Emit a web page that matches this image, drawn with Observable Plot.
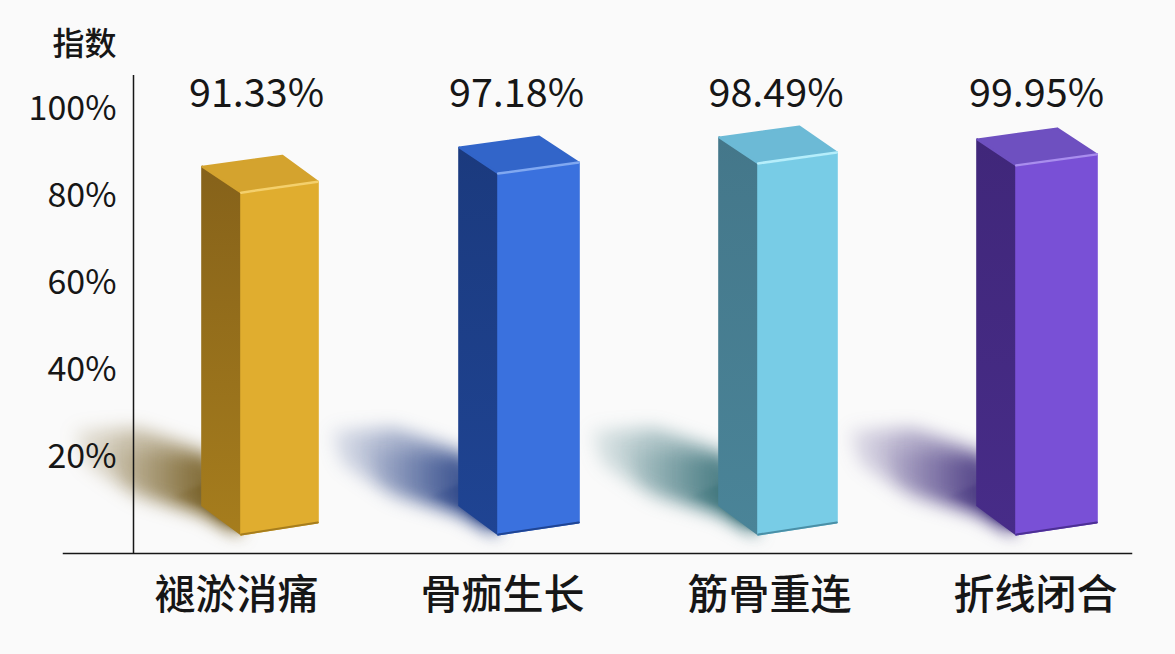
<!DOCTYPE html>
<html><head><meta charset="utf-8">
<script src="https://cdn.jsdelivr.net/npm/d3@7"></script>
<script src="https://cdn.jsdelivr.net/npm/@observablehq/plot@0.6"></script>
<style>html,body{margin:0;padding:0;background:#fafafa;overflow:hidden}svg{display:block}</style>
</head><body><div id="chart"></div>
<script>
// DATA
const categories = ["褪淤消痛", "骨痂生长", "筋骨重连", "折线闭合"];
const values = [91.33, 97.18, 98.49, 99.95];
const yTicks = [20, 40, 60, 80, 100];
const yTitle = "指数";

// STYLE
const faces = [
  {front:"#E0AD2F", sideTop:"#86621A", sideBot:"#A67D1D", top:"#D4A32E", light:"#F4D06C", edge:"#A67D1D", shadow:"#6E5518"},
  {front:"#3A71DE", sideTop:"#1B3A7E", sideBot:"#1F4493", top:"#3265C9", light:"#80A8F1", edge:"#1F4493", shadow:"#1F3A80"},
  {front:"#78CCE6", sideTop:"#44778A", sideBot:"#4A8498", top:"#6CBAD6", light:"#B5EEFB", edge:"#4A8FA6", shadow:"#2F6A72"},
  {front:"#7950D6", sideTop:"#40277A", sideBot:"#472C88", top:"#6E50C0", light:"#A98DEE", edge:"#4C2F94", shadow:"#3B2A78"}
];
// LAYOUT (scale-unit helpers: one slot = 259px, one percent = 4.35px)
const px = n => n / 259, py = n => n / 4.35;
const depthFactor = 0.855, floor = py(9), frontDx = px(39);
const halfW = [57.8, 59.8, 58.8, 59.8].map(px);
const topNudge = [0.5, -0.1, 1.1, -0.6];
const axisX = px(133 - 259.5);
const catDx = [-23.5, -16.5, -8.5, -1.5].map(px);
const valDx = [-3.5, -2.5, -2, -0.5].map(px);

const gradients = () => {
  const defs = d3.create("svg:defs");
  faces.forEach((f, i) => {
    const s = defs.append("linearGradient").attr("id", "side" + i).attr("x1", 0).attr("y1", 0).attr("x2", 0).attr("y2", 1);
    s.append("stop").attr("offset", "0%").attr("stop-color", f.sideTop);
    s.append("stop").attr("offset", "100%").attr("stop-color", f.sideBot);
    const h = defs.append("linearGradient").attr("id", "shadow" + i).attr("x1", 0).attr("y1", 0).attr("x2", 1).attr("y2", 0);
    h.append("stop").attr("offset", "0%").attr("stop-color", f.shadow).attr("stop-opacity", 0.12);
    h.append("stop").attr("offset", "45%").attr("stop-color", f.shadow).attr("stop-opacity", 0.45);
    h.append("stop").attr("offset", "100%").attr("stop-color", f.shadow).attr("stop-opacity", 0.95);
  });
  return defs.node();
};

const poly = pts => [...pts, pts[0]].map(([x, y]) => ({x, y}));
const face = (pts, fill) => Plot.line(poly(pts), {x: "x", y: "y", fill, stroke: fill, strokeWidth: 2, strokeLinejoin: "round"});

const barMarks = categories.flatMap((c, i) => {
  const L = i - halfW[i], F = L + frontDx, R = i + halfW[i];
  const T = values[i] * depthFactor + floor + topNudge[i];
  const f = faces[i];
  return [
    face([[L, floor + py(29)], [F, floor], [F, T], [L, T + py(26)]], `url(#side${i})`),
    face([[F, floor], [R, floor + py(12)], [R, T + py(11)], [F, T]], f.front),
    face([[L, T + py(26)], [L + px(80), T + py(37)], [R, T + py(11)], [F, T]], f.top),
    Plot.line(poly([[F, floor], [R, floor + py(12)]]), {x: "x", y: "y", stroke: f.edge, strokeWidth: 2}),
    Plot.line(poly([[F, T], [R, T + py(11)]]), {x: "x", y: "y", stroke: f.light, strokeWidth: 2.5})
  ];
});

const shadowMarks = categories.flatMap((c, i) => {
  const L = i - halfW[i], F = L + frontDx;
  const wide = [[F, floor - py(1)], [L, floor + py(20)], [L - px(65), floor + py(38)], [L - px(118), floor + py(72)],
                [L - px(128), floor + py(104)], [L - px(65), floor + py(106)], [L + px(8), floor + py(80)]];
  const core = [[F, floor], [L, floor + py(24)], [L - px(80), floor + py(52)], [L - px(90), floor + py(85)], [L + px(6), floor + py(72)]];
  const base = [[F, floor], [L, floor + py(27)], [L - px(30), floor + py(38)], [L + px(4), floor + py(52)]];
  return [
    Plot.line(poly(wide), {x: "x", y: "y", fill: `url(#shadow${i})`, stroke: null, imageFilter: "blur(9px)"}),
    Plot.line(poly(core), {x: "x", y: "y", fill: `url(#shadow${i})`, stroke: null, imageFilter: "blur(7px)", opacity: 0.6}),
    Plot.line(poly(base), {x: "x", y: "y", fill: `url(#shadow${i})`, stroke: null, imageFilter: "blur(2px)", opacity: 0.8})
  ];
});

const textFont = '"Noto Sans CJK SC","Noto Sans",sans-serif';
const plot = Plot.plot({
  width: 1175, height: 654,
  marginLeft: 63, marginRight: 44, marginTop: 75, marginBottom: 101,
  style: {background: "transparent", fontFamily: textFont, color: "#161616"},
  x: {axis: null, type: "linear", domain: [0, 3], range: [259.5, 1036.5]},
  y: {type: "linear", domain: [0, 100], range: [543, 108], label: null},
  marks: [
    gradients,
    ...shadowMarks,
    Plot.frame({anchor: "bottom", stroke: "#161616", strokeWidth: 1.5}),
    Plot.ruleX([axisX], {stroke: "#161616", strokeWidth: 1.5}),
    Plot.axisY({anchor: "left", ticks: yTicks, tickSize: 0, tickPadding: 0, dx: 53, dy: 0.5, fontSize: 34, label: null, tickFormat: d => d + "%", fill: "#161616"}),
    ...barMarks,
    Plot.text([yTitle], {x: axisX, y: [py(543 - 44)], dx: -17, textAnchor: "end", fontSize: 32, fontWeight: 500, fill: "#161616"}),
    Plot.text(values, {x: (d, i) => i + valDx[i], y: () => py(543 - 94), text: d => d.toFixed(2) + "%", fontSize: 39.5, fill: "#161616"}),
    Plot.text(categories, {x: (d, i) => i + catDx[i], y: () => py(543 - 595), text: d => d, fontSize: 41, fontWeight: 500, fill: "#161616"})
  ]
});
document.getElementById("chart").appendChild(plot);
</script></body></html>
